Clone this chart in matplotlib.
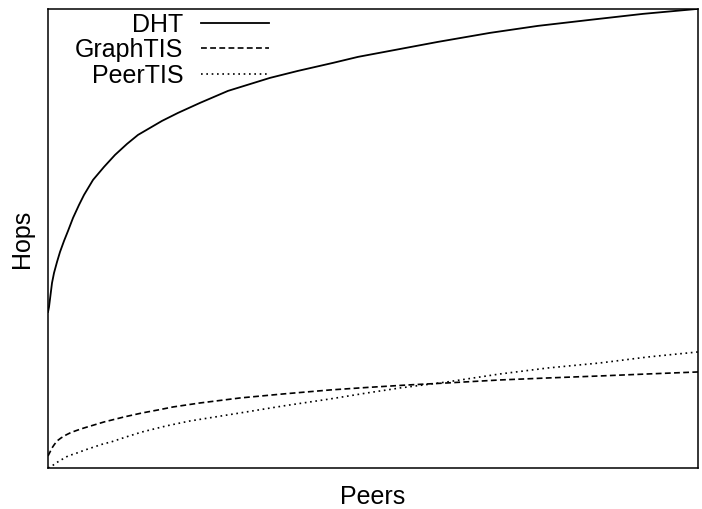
import matplotlib
matplotlib.use("Agg")
import matplotlib.pyplot as plt

plt.rcParams['font.family'] = ['Liberation Sans', 'DejaVu Sans']

# values (arbitrary units, no tick labels on the chart)
dht_peers = [0, 1, 2, 4, 6, 9, 12, 16, 20, 25, 31, 36, 45, 56, 67, 79, 90, 102, 114, 130,
             152, 180, 222, 250, 285, 310, 342, 390, 442, 490, 542, 595, 650]
dht_hops = [156, 161, 169, 185, 195, 206, 216, 227, 237, 250, 263, 273, 288, 301, 313, 324, 333, 340, 347, 355,
            365, 377, 390, 397, 405, 411, 417, 426, 435, 442, 448, 454, 459]

graph_peers = [0, 1, 2, 4, 6, 9, 13, 18, 23, 30, 36, 46, 56, 66, 76, 94, 110, 125, 152,
               192, 235, 282, 319, 360, 399, 452, 500, 552, 600, 650]
graph_hops = [12, 14, 16, 20, 23, 27, 30, 33, 35.5, 38, 40, 43, 46, 48.5, 51, 55, 58, 61, 65,
              70, 74, 78, 80.5, 83, 85, 88, 90, 92, 94, 96]

peer_peers = [0, 4, 8, 13, 20, 29, 37, 46, 55, 63, 78, 94, 118, 142, 167, 192, 235, 282,
              319, 352, 399, 452, 500, 552, 600, 650]
peer_hops = [0, 2, 5, 8, 12, 15, 18, 21, 24, 26, 31, 36, 42, 47, 51, 55, 62, 69,
             75, 80, 86, 94, 100, 105, 111, 116]

fig = plt.figure(figsize=(7.02, 5.09), dpi=100)
ax = fig.add_axes([0.0684, 0.0806, 0.926, 0.902])

ax.plot(dht_peers, dht_hops, color='black', lw=1.3, label='DHT')
ax.plot(graph_peers, graph_hops, color='black', lw=1.2, dashes=(3.5, 2), label='GraphTIS')
ax.plot(peer_peers, peer_hops, color='black', lw=1.2, dashes=(1, 2.2), label='PeerTIS')

ax.set_xlim(0, 650)
ax.set_ylim(0, 459)
ax.set_xticks([])
ax.set_yticks([])
for s in ax.spines.values():
    s.set_linewidth(1.1)

ax.set_xlabel('Peers', fontsize=18, labelpad=12)
ax.set_ylabel('Hops', fontsize=18, labelpad=10)

ax.legend(loc='upper left', frameon=False, markerfirst=False, fontsize=18,
          handlelength=2.7, handletextpad=0.7, labelspacing=0.06,
          borderpad=0.15, borderaxespad=0, bbox_to_anchor=(0.036, 1.0))

fig.savefig('out.png', dpi=100)
